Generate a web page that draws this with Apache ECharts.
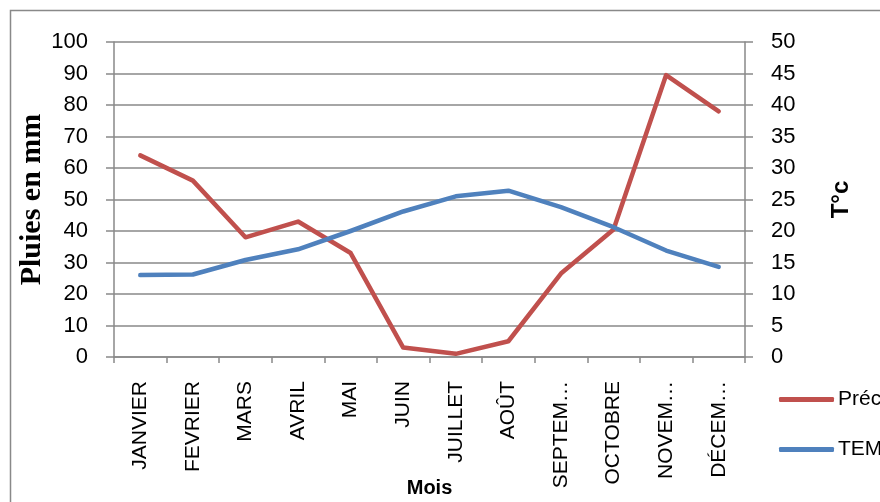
<!DOCTYPE html>
<html>
<head>
<meta charset="utf-8">
<script src="https://cdn.jsdelivr.net/npm/echarts@6/dist/echarts.min.js"></script>
<style>
  html, body { margin: 0; padding: 0; background: #fff; }
  #chart { width: 880px; height: 502px; }
</style>
</head>
<body>
<div id="chart"></div>
<script>
// mois
var mois = ['JANVIER', 'FEVRIER', 'MARS', 'AVRIL', 'MAI', 'JUIN', 'JUILLET', 'AOÛT', 'SEPTEMBRE', 'OCTOBRE', 'NOVEMBRE', 'DÉCEMBRE'];
// pluies en mm (axe gauche)
var precipitations = [64, 56, 38, 43, 33, 3, 1, 5, 26.5, 40.5, 89.5, 78];
// temperature en °c (axe droit)
var temperature = [13, 13.1, 15.4, 17.1, 20, 23.1, 25.5, 26.4, 23.8, 20.6, 16.9, 14.3];

var gris = '#898989';
var police = 'Liberation Sans';

// coupe les noms de mois trop longs, comme le fait le tableur
var ctx = document.createElement('canvas').getContext('2d');
ctx.font = '21px "Liberation Sans"';
function couper(v) {
    var max = 108;
    if (ctx.measureText(v).width <= max) return v;
    var s = v;
    while (s.length > 1 && ctx.measureText(s + '…').width > max) {
        s = s.slice(0, -1);
    }
    return s + '…';
}

var myChart = echarts.init(document.getElementById('chart'));

var option = {
    animation: false,
    backgroundColor: '#fff',
    graphic: [{
        type: 'rect',
        shape: { x: 10.5, y: 10.5, width: 900, height: 540 },
        style: { fill: 'none', stroke: gris, lineWidth: 1.5 },
        silent: true
    }],
    grid: { left: 114, right: 135, top: 42, bottom: 145, outerBoundsMode: 'none' },
    legend: {
        orient: 'vertical',
        left: 774,
        top: 384,
        icon: 'roundRect',
        itemWidth: 55,
        itemHeight: 5,
        itemGap: 29,
        textStyle: { fontFamily: police, fontSize: 21, color: '#000', lineHeight: 20, padding: [0, 0, 0, -1] },
        data: ['Précipitations', 'TEMPERATURE']
    },
    xAxis: {
        type: 'category',
        data: mois,
        boundaryGap: true,
        name: 'Mois',
        nameLocation: 'middle',
        nameGap: 121,
        nameMoveOverlap: false,
        nameTextStyle: { fontFamily: police, fontSize: 20, fontWeight: 'bold', color: '#000' },
        axisLine: { lineStyle: { color: gris, width: 1.5 } },
        axisTick: { show: true, length: 6, lineStyle: { color: gris, width: 1.5 } },
        axisLabel: {
            rotate: 90,
            margin: 24,
            interval: 0,
            fontFamily: police,
            fontSize: 21,
            color: '#000',
            formatter: couper
        }
    },
    yAxis: [{
        type: 'value',
        min: 0,
        max: 100,
        interval: 10,
        name: 'Pluies en mm',
        nameLocation: 'middle',
        nameGap: 67,
        nameMoveOverlap: false,
        nameTextStyle: { fontFamily: 'Liberation Serif', fontSize: 30, fontWeight: 'bold', color: '#000' },
        axisLine: { show: true, lineStyle: { color: gris, width: 1.5 } },
        axisTick: { show: true, length: 8, lineStyle: { color: gris, width: 1.5 } },
        axisLabel: { fontFamily: police, fontSize: 22, color: '#000', margin: 26 },
        splitLine: { lineStyle: { color: gris, width: 1.5 } }
    }, {
        type: 'value',
        min: 0,
        max: 50,
        interval: 5,
        name: 'T°c',
        nameLocation: 'middle',
        nameGap: 84,
        nameRotate: 90,
        nameMoveOverlap: false,
        nameTextStyle: { fontFamily: police, fontSize: 24, fontWeight: 'bold', color: '#000' },
        axisLine: { show: true, lineStyle: { color: gris, width: 1.5 } },
        axisTick: { show: true, length: 8, lineStyle: { color: gris, width: 1.5 } },
        axisLabel: { fontFamily: police, fontSize: 22, color: '#000', margin: 26 },
        splitLine: { show: false }
    }],
    series: [{
        name: 'Précipitations',
        type: 'line',
        yAxisIndex: 0,
        data: precipitations,
        symbol: 'none',
        color: '#C0504D',
        lineStyle: { width: 4.5, color: '#C0504D', cap: 'round', join: 'round' }
    }, {
        name: 'TEMPERATURE',
        type: 'line',
        yAxisIndex: 1,
        data: temperature,
        symbol: 'none',
        color: '#4F81BD',
        lineStyle: { width: 4.5, color: '#4F81BD', cap: 'round', join: 'round' }
    }]
};

myChart.setOption(option);
</script>
</body>
</html>
